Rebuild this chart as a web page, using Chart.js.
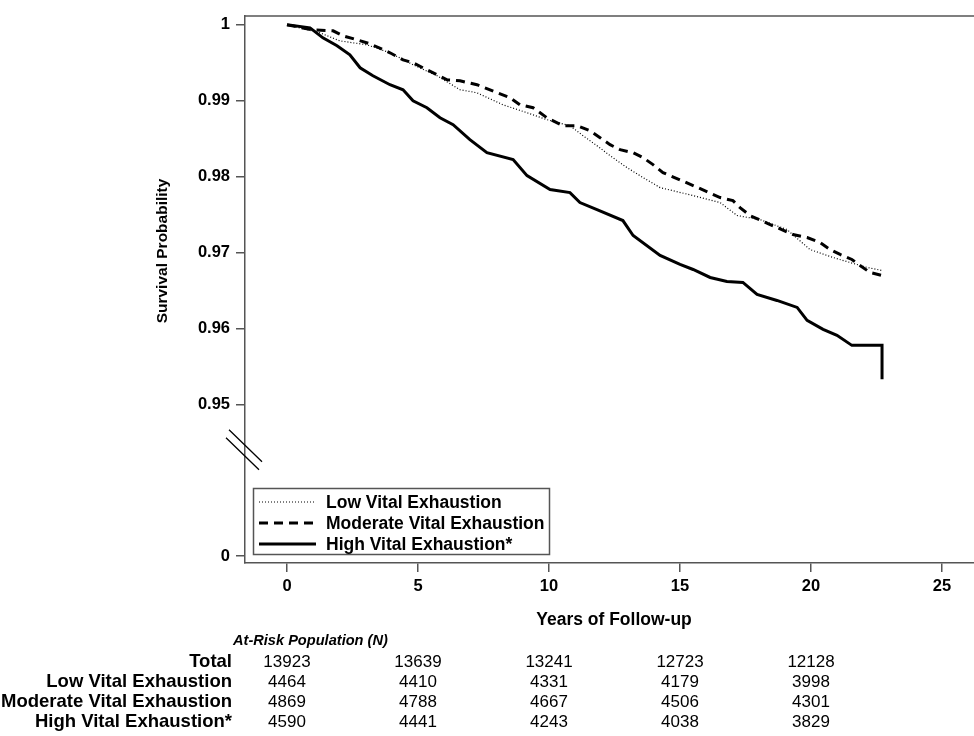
<!DOCTYPE html>
<html>
<head>
<meta charset="utf-8">
<script src="https://cdn.jsdelivr.net/npm/chart.js@4.4.0/dist/chart.umd.min.js"></script>
<style>
  html, body { margin: 0; padding: 0; background: #fff; }
</style>
</head>
<body>
<canvas id="kmChart" width="974" height="736"></canvas>
<script>
// Kaplan-Meier curves (years, survival)
var lowYears = [0, 1.26, 2.02, 3.05, 3.93, 4.81, 5.73, 6.60, 7.25, 8.24, 9.16, 9.92, 10.80, 11.30, 11.83, 12.33, 12.98, 13.59, 14.24, 15.50, 16.53, 17.18, 18.05, 19.08, 19.96, 20.84, 21.49, 22.14, 22.71];
var lowSurv = [1.0, 0.99895, 0.99789, 0.99737, 0.99632, 0.99474, 0.99329, 0.99145, 0.99105, 0.98947, 0.98842, 0.98750, 0.98671, 0.98539, 0.98408, 0.98276, 0.98118, 0.97987, 0.97855, 0.97750, 0.97658, 0.97487, 0.97434, 0.97303, 0.97039, 0.96934, 0.96868, 0.96803, 0.96763];

var modYears = [0, 0.99, 1.76, 2.14, 2.67, 3.17, 3.93, 4.43, 4.81, 5.34, 6.11, 6.60, 7.25, 8.02, 8.51, 8.89, 9.39, 9.92, 10.53, 11.07, 11.56, 11.95, 12.33, 12.71, 13.21, 13.59, 13.97, 14.35, 15.50, 16.53, 17.02, 17.29, 17.67, 18.44, 19.31, 19.85, 20.34, 20.73, 21.11, 21.56, 21.87, 22.25, 22.71];
var modSurv = [1.0, 0.99934, 0.99921, 0.99855, 0.99803, 0.99750, 0.99632, 0.99539, 0.99500, 0.99408, 0.99276, 0.99263, 0.99211, 0.99105, 0.99040, 0.98947, 0.98908, 0.98776, 0.98671, 0.98671, 0.98605, 0.98513, 0.98421, 0.98355, 0.98316, 0.98250, 0.98158, 0.98053, 0.97882, 0.97724, 0.97684, 0.97592, 0.97487, 0.97368, 0.97237, 0.97197, 0.97132, 0.97039, 0.96974, 0.96908, 0.96829, 0.96737, 0.96697];

var highYears = [0, 0.88, 1.37, 1.91, 2.40, 2.79, 3.28, 3.93, 4.43, 4.81, 5.34, 5.84, 6.34, 6.98, 7.63, 8.63, 9.16, 10.04, 10.80, 11.18, 11.83, 12.82, 13.21, 14.24, 15.00, 15.50, 16.15, 16.79, 17.40, 17.94, 18.70, 19.47, 19.85, 20.46, 20.99, 21.56, 22.71, 22.71];
var highSurv = [1.0, 0.99961, 0.99829, 0.99724, 0.99605, 0.99434, 0.99329, 0.99211, 0.99145, 0.99000, 0.98908, 0.98776, 0.98684, 0.98487, 0.98316, 0.98224, 0.98013, 0.97829, 0.97789, 0.97658, 0.97566, 0.97421, 0.97224, 0.96961, 0.96842, 0.96776, 0.96671, 0.96618, 0.96605, 0.96447, 0.96368, 0.96276, 0.96105, 0.95987, 0.95908, 0.95776, 0.95776, 0.95329];

var groupNames = ['Low Vital Exhaustion', 'Moderate Vital Exhaustion', 'High Vital Exhaustion*'];

// axis ticks; 0.93 is where the broken axis puts its "0"
var xTickValues = [0, 5, 10, 15, 20, 25];
var yTickValues = [0.93, 0.95, 0.96, 0.97, 0.98, 0.99, 1];
var yTickLabels = ['0', '0.95', '0.96', '0.97', '0.98', '0.99', '1'];

// at-risk table
var riskYears = [0, 5, 10, 15, 20];
var riskTotal = [13923, 13639, 13241, 12723, 12128];
var riskLow = [4464, 4410, 4331, 4179, 3998];
var riskMod = [4869, 4788, 4667, 4506, 4301];
var riskHigh = [4590, 4441, 4243, 4038, 3829];

function toPoints(xs, ys) {
    return xs.map(function (x, i) { return { x: x, y: ys[i] }; });
}

var FONT = '"Liberation Sans", Arial, sans-serif';

var extras = {
    id: 'extras',
    afterDatasetsDraw: function (chart) {
        var ctx = chart.ctx;
        var area = chart.chartArea;
        var xs = chart.scales.x;
        var ys = chart.scales.y;
        ctx.save();

        // top frame line (no right side in the original)
        ctx.strokeStyle = '#555';
        ctx.lineWidth = 1.5;
        ctx.beginPath();
        ctx.moveTo(area.left, area.top);
        ctx.lineTo(area.right, area.top);
        ctx.stroke();

        // axis break marks
        var yc = ys.getPixelForValue(0.944);
        ctx.strokeStyle = '#000';
        ctx.lineWidth = 1.3;
        ctx.beginPath();
        ctx.moveTo(229, yc - 20); ctx.lineTo(262, yc + 12);
        ctx.moveTo(226, yc - 12); ctx.lineTo(259, yc + 20);
        ctx.stroke();

        // legend box
        ctx.fillStyle = '#fff';
        ctx.fillRect(253, 488, 296, 66);
        ctx.strokeStyle = '#555';
        ctx.lineWidth = 1.5;
        ctx.strokeRect(253.5, 488.5, 296, 66);
        var rows = [502, 523, 544];
        chart.data.datasets.forEach(function (ds, i) {
            ctx.strokeStyle = '#000';
            ctx.lineWidth = ds.borderWidth;
            ctx.setLineDash(ds.borderDash || []);
            ctx.beginPath();
            ctx.moveTo(259, rows[i]);
            ctx.lineTo(316, rows[i]);
            ctx.stroke();
            ctx.setLineDash([]);
            ctx.fillStyle = '#000';
            ctx.font = 'bold 17.5px ' + FONT;
            ctx.textAlign = 'left';
            ctx.textBaseline = 'middle';
            ctx.fillText(ds.label, 326, rows[i] + 1);
        });

        // axis titles
        ctx.fillStyle = '#000';
        ctx.font = 'bold 17.5px ' + FONT;
        ctx.textAlign = 'center';
        ctx.textBaseline = 'middle';
        ctx.fillText('Years of Follow-up', 614, 620);
        ctx.font = 'bold 15.5px ' + FONT;
        ctx.save();
        ctx.translate(163, 251);
        ctx.rotate(-Math.PI / 2);
        ctx.fillText('Survival Probability', 0, 0);
        ctx.restore();

        // at-risk table
        ctx.font = 'italic bold 14.6px ' + FONT;
        ctx.textAlign = 'left';
        ctx.fillText('At-Risk Population (N)', 233, 641);
        var tableRows = [
            ['Total', riskTotal],
            [groupNames[0], riskLow],
            [groupNames[1], riskMod],
            [groupNames[2], riskHigh]
        ];
        tableRows.forEach(function (row, r) {
            var y = 662 + r * 20;
            ctx.font = 'bold 18.5px ' + FONT;
            ctx.textAlign = 'right';
            ctx.fillText(row[0], 232, y);
            ctx.font = '17px ' + FONT;
            ctx.textAlign = 'center';
            row[1].forEach(function (n, c) {
                ctx.fillText(String(n), xs.getPixelForValue(riskYears[c]), y);
            });
        });

        ctx.restore();
    }
};

var kmCtx = document.getElementById('kmChart').getContext('2d');
var kmChart = new Chart(kmCtx, {
    type: 'scatter',
    data: {
        datasets: [{
            label: groupNames[0],
            data: toPoints(lowYears, lowSurv),
            borderColor: '#000',
            borderWidth: 1.2,
            borderDash: [1, 2],
            showLine: true,
            pointRadius: 0
        }, {
            label: groupNames[1],
            data: toPoints(modYears, modSurv),
            borderColor: '#000',
            borderWidth: 3,
            borderDash: [9, 6],
            showLine: true,
            pointRadius: 0
        }, {
            label: groupNames[2],
            data: toPoints(highYears, highSurv),
            borderColor: '#000',
            borderWidth: 3,
            showLine: true,
            pointRadius: 0
        }]
    },
    options: {
        responsive: false,
        animation: false,
        layout: { padding: { left: 0, right: 0, top: 13, bottom: 103 } },
        plugins: {
            legend: { display: false },
            tooltip: { enabled: false }
        },
        scales: {
            x: {
                type: 'linear',
                min: -1.603,
                max: 26.22,
                afterBuildTicks: function (s) { s.ticks = xTickValues.map(function (v) { return { value: v }; }); },
                afterFit: function (s) { s.height = 70; },
                ticks: { color: '#000', font: { family: FONT, size: 16.5, weight: 'bold' }, padding: 5 },
                grid: { drawOnChartArea: false, tickLength: 9, color: '#555', lineWidth: 1.5 },
                border: { color: '#555', width: 1.5 }
            },
            y: {
                type: 'linear',
                min: 0.92908,
                max: 1.00118,
                afterBuildTicks: function (s) { s.ticks = yTickValues.map(function (v) { return { value: v }; }); },
                afterFit: function (s) { s.width = 245; },
                ticks: {
                    color: '#000',
                    font: { family: FONT, size: 16.5, weight: 'bold' },
                    padding: 6,
                    callback: function (v) {
                        var i = yTickValues.indexOf(v);
                        return i >= 0 ? yTickLabels[i] : '';
                    }
                },
                grid: { drawOnChartArea: false, tickLength: 9, color: '#555', lineWidth: 1.5 },
                border: { color: '#555', width: 1.5 }
            }
        }
    },
    plugins: [extras]
});
</script>
</body>
</html>
